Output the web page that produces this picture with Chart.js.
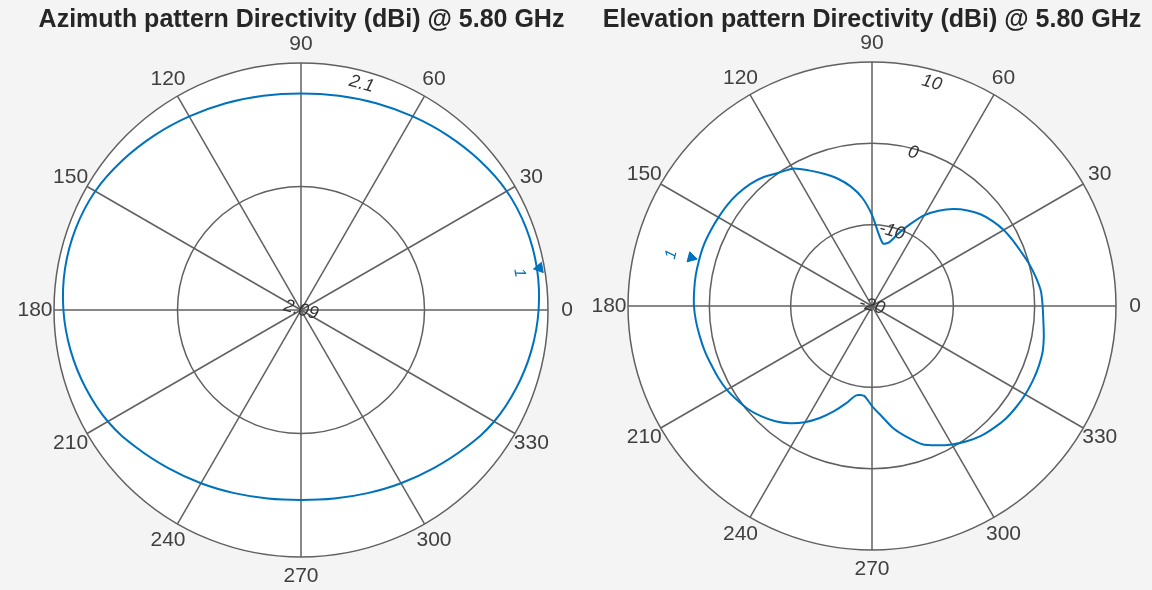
<!DOCTYPE html>
<html>
<head>
<meta charset="utf-8">
<script src="https://cdn.jsdelivr.net/npm/chart.js@4.4.1/dist/chart.umd.min.js"></script>
<style>
  body { margin: 0; background: #f4f4f4; width: 1152px; height: 590px; overflow: hidden; position: relative; }
  canvas { position: absolute; top: 0; }
  #az { left: 0; }
  #el { left: 592px; }
</style>
</head>
<body>
<canvas id="az" width="603" height="590"></canvas>
<canvas id="el" width="560" height="590"></canvas>
<script>
// angle labels shown round the rim
const angleTicks = [0, 30, 60, 90, 120, 150, 180, 210, 240, 270, 300, 330];

// azimuth cut, directivity in dBi (angles counter-clockwise from 0 at the right)
const azAngles = [0, 10, 20, 30, 40, 50, 60, 70, 80, 90, 100, 110, 120, 130, 140, 150, 160, 170,
                  180, 190, 200, 210, 220, 230, 240, 250, 260, 270, 280, 290, 300, 310, 320, 330, 340, 350];
const azDirectivity = [2.09962, 2.09970, 2.09970, 2.09962, 2.09943, 2.09923, 2.09905, 2.09891, 2.09881,
                       2.09877, 2.09881, 2.09891, 2.09905, 2.09923, 2.09943, 2.09962, 2.09970, 2.09970,
                       2.09962, 2.09947, 2.09927, 2.09903, 2.09868, 2.09836, 2.09810, 2.09789, 2.09775,
                       2.09769, 2.09775, 2.09789, 2.09810, 2.09836, 2.09868, 2.09903, 2.09927, 2.09947];
const azRings = [2.09, 2.095, 2.1];
const azRingLabels = ['2.09', '', '2.1'];
const azPeak = [10, 2.0998];

// elevation cut, directivity in dBi
const elAngles = [0, 5, 10, 15, 20, 25, 30, 35, 40, 45, 50, 55, 60, 65, 70, 75, 80, 85,
                  90, 95, 100, 105, 110, 115, 120, 125, 130, 135, 140, 145, 150, 155, 160, 165, 170, 175,
                  180, 185, 190, 195, 200, 205, 210, 215, 220, 225, 230, 235, 240, 245, 250, 255, 260, 265,
                  270, 275, 280, 285, 290, 295, 300, 305, 310, 315, 320, 325, 330, 335, 340, 345, 350, 355];
const elDirectivity = [0.98, 0.85, 0.45, 0.0, -0.5, -0.9, -1.3, -1.85, -2.5, -3.4, -4.45, -5.7, -7.1, -8.9, -10.5, -11.9, -12.2, -11.0,
                       -8.8, -6.7, -5.1, -3.8, -2.7, -1.6, -0.5, 0.0, 0.7, 1.2, 1.5, 1.7, 1.8, 1.9, 2.0, 2.0, 2.0, 1.95,
                       1.89, 1.72, 1.5, 1.3, 1.05, 0.85, 0.6, 0.2, -0.2, -0.8, -1.5, -2.4, -3.5, -4.8, -6.2, -7.6, -8.85, -8.9,
                       -7.7, -6.4, -4.7, -3.3, -1.9, -1.1, -0.35, 0.3, 0.85, 1.2, 1.5, 1.65, 1.76, 1.8, 1.8, 1.72, 1.45, 1.15];
const elRings = [-20, -10, 0, 10];
const elRingLabels = ['-20', '-10', '0', '10'];
const elPeak = [165, 3.0];

const FONT = '"Liberation Sans", Arial, Helvetica, sans-serif';
const BLUE = '#0072BD';
const GRID = '#606060';

// rim labels, magnitude labels on the 75 degree spoke, peak marker label
const polarText = {
  id: 'polarText',
  afterDatasetsDraw(chart, args, o) {
    const s = chart.scales.r;
    const ctx = chart.ctx;
    ctx.save();
    ctx.textAlign = 'center';
    ctx.textBaseline = 'middle';
    ctx.font = '21px ' + FONT;
    ctx.fillStyle = '#404040';
    chart.data.labels.forEach((lab, i) => {
      if (!angleTicks.includes(Number(lab))) return;
      const p = s.getPointPosition(i, s.drawingArea + 19);
      ctx.fillText(lab, p.x, p.y);
    });

    ctx.translate(s.xCenter, s.yCenter);
    ctx.rotate((90 - 75) * Math.PI / 180);
    ctx.font = 'italic 18px ' + FONT;
    ctx.fillStyle = '#333333';
    o.rings.forEach((v, k) => {
      const d = s.getDistanceFromCenterForValue(v);
      const inset = k === o.rings.length - 1 ? 13 : (d > 0 ? 4 : 0);
      ctx.fillText(o.ringLabels[k], 0, -(d - inset));
    });
    ctx.restore();

    const pt = chart.getDatasetMeta(1).data[o.peakIndex];
    if (pt) {
      ctx.save();
      ctx.translate(pt.x + o.labelDx, pt.y + o.labelDy);
      ctx.rotate((90 - o.peakAngle) * Math.PI / 180);
      ctx.font = 'italic 16px ' + FONT;
      ctx.fillStyle = BLUE;
      ctx.textAlign = 'center';
      ctx.textBaseline = 'middle';
      ctx.fillText('1', 0, 0);
      ctx.restore();
    }
  }
};

function makePolar(id, title, angles, values, rings, ringLabels, peak, look) {
  // radar runs clockwise from the right, the plot counter-clockwise
  const n = angles.length;
  const order = angles.map((a, i) => (n - i) % n);
  const labels = order.map(j => String(angles[j]));
  const data = order.map(j => values[j]);
  const peakIndex = labels.indexOf(String(peak[0]));
  const peakData = labels.map((l, i) => (i === peakIndex ? peak[1] : null));

  return new Chart(document.getElementById(id).getContext('2d'), {
    type: 'radar',
    data: {
      labels: labels,
      datasets: [{
        data: data,
        borderColor: BLUE,
        borderWidth: 2,
        pointRadius: 0,
        fill: false,
        tension: look.tension
      }, {
        data: peakData,
        showLine: false,
        pointStyle: 'triangle',
        pointRadius: 6,
        pointRotation: 270 - peak[0],
        backgroundColor: BLUE,
        borderColor: BLUE,
        borderWidth: 1
      }]
    },
    options: {
      responsive: false,
      animation: false,
      layout: { padding: { bottom: look.bottom } },
      plugins: {
        legend: { display: false },
        tooltip: { enabled: false },
        title: {
          display: true,
          text: title,
          color: '#262626',
          font: { family: FONT, size: 25, weight: 'bold' },
          padding: { top: 5, bottom: look.titleGap }
        },
        polarText: {
          rings: rings,
          ringLabels: ringLabels,
          peakIndex: peakIndex,
          peakAngle: peak[0],
          labelDx: look.labelDx,
          labelDy: look.labelDy
        }
      },
      scales: {
        r: {
          min: rings[0],
          max: rings[rings.length - 1],
          startAngle: 90,
          backgroundColor: '#ffffff',
          grid: { circular: true, color: GRID, lineWidth: 1.5 },
          angleLines: {
            color: GRID,
            lineWidth: ctx => (angleTicks.includes(Number(labels[ctx.index])) ? 1.5 : 0)
          },
          pointLabels: { display: false },
          ticks: { display: false, stepSize: rings[1] - rings[0] }
        }
      }
    },
    plugins: [polarText]
  });
}

// title block height 5 + 30 + gap equals the top of the plot circle
makePolar('az', 'Azimuth pattern Directivity (dBi) @ 5.80 GHz',
  azAngles, azDirectivity, azRings, azRingLabels, azPeak,
  { tension: 0.4, bottom: 33, titleGap: 28, labelDx: -20, labelDy: 5 });

makePolar('el', 'Elevation pattern Directivity (dBi) @ 5.80 GHz',
  elAngles, elDirectivity, elRings, elRingLabels, elPeak,
  { tension: 0.25, bottom: 40, titleGap: 27, labelDx: -20, labelDy: -3 });
</script>
</body>
</html>
